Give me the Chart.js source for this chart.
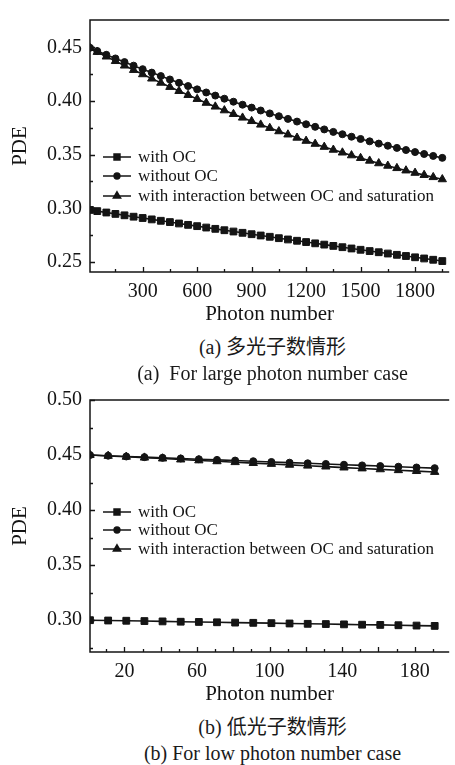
<!DOCTYPE html>
<html>
<head>
<meta charset="utf-8">
<script src="https://cdn.jsdelivr.net/npm/chart.js@4.4.1/dist/chart.umd.min.js"></script>
<style>
  body { margin: 0; background: #fff; width: 455px; height: 765px; position: relative; overflow: hidden;
         font-family: "Liberation Serif", "Noto Sans CJK SC", serif; color: #1a1a1a; }
  canvas { position: absolute; left: 0; }
  #largeChart { top: 0; }
  #lowChart { top: 380px; }
  .cap { position: absolute; left: 90px; width: 365px; text-align: center; font-size: 20px;
         line-height: 20px; white-space: nowrap; }
</style>
</head>
<body>
<canvas id="largeChart" width="455" height="330"></canvas>
<canvas id="lowChart" width="455" height="330"></canvas>
<div class="cap" style="top:337px">(a) 多光子数情形</div>
<div class="cap" style="top:363px">(a)&nbsp; For large photon number case</div>
<div class="cap" style="top:717px">(b) 低光子数情形</div>
<div class="cap" style="top:743px">(b) For low photon number case</div>
<script>
// series names (same in both panels)
const seriesNames = ['with OC', 'without OC', 'with interaction between OC and saturation'];

// (a) large photon number case
const largePhotons = [10, 50, 100, 150, 200, 250, 300, 350, 400, 450, 500, 550, 600, 650, 700, 750,
  800, 850, 900, 950, 1000, 1050, 1100, 1150, 1200, 1250, 1300, 1350, 1400, 1450, 1500, 1550,
  1600, 1650, 1700, 1750, 1800, 1850, 1900, 1950];
const largeWithOC = [0.2985, 0.2974, 0.2961, 0.2948, 0.2935, 0.2922, 0.2910, 0.2897, 0.2884, 0.2872,
  0.2859, 0.2846, 0.2834, 0.2821, 0.2809, 0.2796, 0.2784, 0.2772, 0.2759, 0.2747, 0.2735, 0.2722,
  0.2710, 0.2698, 0.2686, 0.2674, 0.2662, 0.2650, 0.2638, 0.2626, 0.2614, 0.2602, 0.2591, 0.2579,
  0.2567, 0.2556, 0.2544, 0.2533, 0.2521, 0.2509];
const largeWithoutOC = [0.4495, 0.4465, 0.4430, 0.4396, 0.4362, 0.4329, 0.4296, 0.4264, 0.4232, 0.4200,
  0.4169, 0.4139, 0.4108, 0.4079, 0.4050, 0.4021, 0.3993, 0.3965, 0.3938, 0.3911, 0.3884, 0.3858,
  0.3833, 0.3808, 0.3783, 0.3759, 0.3735, 0.3712, 0.3690, 0.3667, 0.3646, 0.3624, 0.3603, 0.3583,
  0.3563, 0.3543, 0.3524, 0.3506, 0.3488, 0.3470];
const largeInteraction = [0.4492, 0.4456, 0.4413, 0.4371, 0.4329, 0.4288, 0.4248, 0.4208, 0.4169, 0.4130,
  0.4092, 0.4055, 0.4018, 0.3982, 0.3947, 0.3912, 0.3878, 0.3844, 0.3812, 0.3779, 0.3748, 0.3717,
  0.3687, 0.3657, 0.3628, 0.3600, 0.3572, 0.3545, 0.3519, 0.3493, 0.3468, 0.3443, 0.3419, 0.3396,
  0.3374, 0.3352, 0.3330, 0.3310, 0.3290, 0.3270];
const largeXLabels = [300, 600, 900, 1200, 1500, 1800];
const largeXMinor = [150, 450, 750, 1050, 1350, 1650, 1950];
const largeYLabels = [0.25, 0.30, 0.35, 0.40, 0.45];
const largeYMinor = [0.275, 0.325, 0.375, 0.425];

// (b) low photon number case
const lowPhotons = [1, 11, 21, 31, 41, 51, 61, 71, 81, 91, 101, 111, 121, 131, 141, 151, 161, 171, 181, 191];
const lowWithOC = [0.3000, 0.2997, 0.2995, 0.2992, 0.2989, 0.2986, 0.2984, 0.2981, 0.2978, 0.2976,
  0.2973, 0.2970, 0.2967, 0.2965, 0.2962, 0.2959, 0.2957, 0.2954, 0.2951, 0.2948];
const lowWithoutOC = [0.4500, 0.4494, 0.4487, 0.4481, 0.4475, 0.4469, 0.4462, 0.4456, 0.4450, 0.4444,
  0.4437, 0.4431, 0.4425, 0.4419, 0.4412, 0.4406, 0.4400, 0.4394, 0.4387, 0.4381];
const lowInteraction = [0.4500, 0.4492, 0.4484, 0.4476, 0.4468, 0.4459, 0.4451, 0.4443, 0.4435, 0.4427,
  0.4419, 0.4411, 0.4403, 0.4395, 0.4386, 0.4378, 0.4370, 0.4362, 0.4354, 0.4346];
const lowXLabels = [20, 60, 100, 140, 180];
const lowXMajor = [20, 40, 60, 80, 100, 120, 140, 160, 180];
const lowXMinor = [10, 30, 50, 70, 90, 110, 130, 150, 170, 190];
const lowYLabels = [0.30, 0.35, 0.40, 0.45, 0.50];
const lowYMinor = [0.275, 0.325, 0.375, 0.425, 0.475];

const INK = '#141414';
const SERIF = '"Liberation Serif", "Times New Roman", serif';
const markers = [
  { style: 'rect', radius: 4.8 },
  { style: 'circle', radius: 3.5 },
  { style: 'triangle', radius: 4.8 }
];

// frame (left, bottom, top) plus inward tick marks
const innerTicks = {
  id: 'innerTicks',
  afterDraw(chart, args, opts) {
    const { ctx, chartArea: a, scales: { x, y } } = chart;
    ctx.save();
    ctx.strokeStyle = INK;
    ctx.lineWidth = 1.5;
    ctx.beginPath();
    ctx.moveTo(a.right, a.top);
    ctx.lineTo(a.left, a.top);
    ctx.lineTo(a.left, a.bottom);
    ctx.lineTo(a.right, a.bottom);
    ctx.stroke();
    ctx.lineWidth = 1.3;
    ctx.beginPath();
    const xt = (vals, len) => vals.forEach(v => {
      const px = Math.round(x.getPixelForValue(v)) + 0.5;
      ctx.moveTo(px, a.bottom); ctx.lineTo(px, a.bottom - len);
    });
    const yt = (vals, len) => vals.forEach(v => {
      const py = Math.round(y.getPixelForValue(v)) + 0.5;
      ctx.moveTo(a.left, py); ctx.lineTo(a.left + len, py);
    });
    xt(opts.xMajor, 5); xt(opts.xMinor, 3);
    yt(opts.yMajor, 5); yt(opts.yMinor, 3);
    ctx.stroke();
    ctx.restore();
  }
};

// legend with line sample + marker, drawn inside the plot
const lineLegend = {
  id: 'lineLegend',
  afterDraw(chart, args, opts) {
    const { ctx, chartArea: a } = chart;
    ctx.save();
    ctx.font = '17px ' + SERIF;
    ctx.textBaseline = 'middle';
    ctx.fillStyle = INK;
    chart.data.datasets.forEach((ds, i) => {
      const yy = a.top + opts.rows[i];
      ctx.strokeStyle = INK;
      ctx.lineWidth = 1.5;
      ctx.beginPath();
      ctx.moveTo(103, yy); ctx.lineTo(131, yy);
      ctx.stroke();
      Chart.helpers.drawPoint(ctx, {
        pointStyle: ds.pointStyle, radius: ds.pointRadius - 0.6, borderWidth: 1, rotation: 0
      }, 117, yy);
      ctx.fillStyle = INK;
      ctx.fillText(ds.label, 138, yy + 1);
    });
    ctx.restore();
  }
};

function makeChart(id, xs, ys, xRange, yRange, xLabels, xMajor, xMinor, yLabels, yMinor, legendRows) {
  const datasets = ys.map((arr, i) => ({
    label: seriesNames[i],
    data: xs.map((x, j) => ({ x, y: arr[j] })),
    pointStyle: markers[i].style,
    pointRadius: markers[i].radius,
    borderColor: INK,
    backgroundColor: INK,
    pointBorderColor: INK,
    pointBackgroundColor: INK,
    borderWidth: 1.6,
    pointBorderWidth: 1,
    tension: 0
  }));
  return new Chart(document.getElementById(id), {
    type: 'line',
    data: { datasets },
    options: {
      responsive: false,
      animation: false,
      devicePixelRatio: 1,
      layout: { padding: { top: 13, right: 0, left: 0, bottom: 0 } },
      plugins: {
        legend: { display: false },
        tooltip: { enabled: false },
        innerTicks: { xMajor, xMinor, yMajor: yLabels, yMinor },
        lineLegend: { rows: legendRows }
      },
      scales: {
        x: {
          type: 'linear', min: xRange[0], max: xRange[1],
          grid: { display: false, drawTicks: false },
          border: { display: false },
          afterBuildTicks: s => { s.ticks = xLabels.map(v => ({ value: v })); },
          afterFit: s => { s.height = 58; },
          ticks: { padding: 8, color: INK, font: { family: SERIF, size: 20 }, maxRotation: 0, autoSkip: false,
                   callback: v => String(v) },
          title: { display: true, text: 'Photon number', color: INK, font: { family: SERIF, size: 21 },
                   padding: { top: 0, bottom: 3 } }
        },
        y: {
          min: yRange[0], max: yRange[1],
          grid: { display: false, drawTicks: false },
          border: { display: false },
          afterBuildTicks: s => { s.ticks = yLabels.map(v => ({ value: v })); },
          afterFit: s => { s.width = 90; },
          ticks: { padding: 8, color: INK, font: { family: SERIF, size: 20 }, autoSkip: false,
                   callback: v => v.toFixed(2) },
          title: { display: true, text: 'PDE', color: INK, font: { family: SERIF, size: 21 },
                   padding: { top: 8, bottom: 0 } }
        }
      }
    },
    plugins: [innerTicks, lineLegend]
  });
}

makeChart('largeChart', largePhotons, [largeWithOC, largeWithoutOC, largeInteraction],
  [10, 1988], [0.2407, 0.4754], largeXLabels, largeXLabels, largeXMinor, largeYLabels, largeYMinor,
  [137, 156, 176]);
makeChart('lowChart', lowPhotons, [lowWithOC, lowWithoutOC, lowInteraction],
  [1, 199], [0.2711, 0.50], lowXLabels, lowXMajor, lowXMinor, lowYLabels, lowYMinor,
  [112, 130, 149]);
</script>
</body>
</html>
